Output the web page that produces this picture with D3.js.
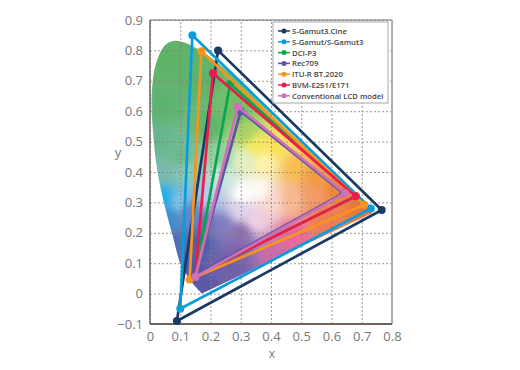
<!DOCTYPE html>
<html>
<head>
<meta charset="utf-8">
<script src="https://cdnjs.cloudflare.com/ajax/libs/d3/7.8.5/d3.min.js"></script>
<style>
body { margin: 0; background: #fff; }
svg { display: block; font-family: "Open Sans", sans-serif; }
</style>
</head>
<body>
<div id="chart-area"></div>
<script>
var names = ["S-Gamut3.Cine", "S-Gamut/S-Gamut3", "DCI-P3", "Rec709", "ITU-R BT.2020", "BVM-E251/E171", "Conventional LCD model"];
var colors = ["#1b3a61", "#0a9ddc", "#0aa550", "#5b55a5", "#f7941d", "#ed1c4c", "#cf72b4"];
// red, green, blue corners
var gamutX = [[0.766, 0.225, 0.089], [0.73, 0.14, 0.10], [0.68, 0.265, 0.15], [0.64, 0.30, 0.15], [0.708, 0.17, 0.131], [0.68, 0.208, 0.15], [0.645, 0.29, 0.15]];
var gamutY = [[0.275, 0.80, -0.09], [0.28, 0.85, -0.05], [0.32, 0.69, 0.06], [0.33, 0.60, 0.06], [0.292, 0.797, 0.046], [0.32, 0.725, 0.06], [0.33, 0.615, 0.055]];
// order in which the triangles stack
var drawOrder = [0, 1, 2, 4, 5, 3, 6];

var locusX = [0.172, 0.144, 0.124, 0.10, 0.075, 0.052, 0.024, 0.01, 0.005, 0.008, 0.018, 0.04, 0.06, 0.083, 0.114, 0.155, 0.193, 0.23, 0.302, 0.373, 0.444, 0.513, 0.575, 0.627, 0.735];
var locusY = [0.0, 0.03, 0.058, 0.10, 0.19, 0.275, 0.405, 0.53, 0.62, 0.69, 0.75, 0.805, 0.825, 0.832, 0.826, 0.806, 0.782, 0.754, 0.692, 0.625, 0.555, 0.487, 0.425, 0.373, 0.265];

// colour samples inside the horseshoe
var patchX = [0.08, 0.04, 0.16, 0.02, 0.2, 0.1, 0.03, 0.12, 0.04, 0.1, 0.06, 0.09, 0.13, 0.18, 0.25, 0.17, 0.13, 0.2, 0.3, 0.23, 0.24, 0.29, 0.32, 0.31, 0.31, 0.36, 0.38, 0.35, 0.42, 0.48, 0.55, 0.62, 0.70, 0.57, 0.47, 0.41, 0.35, 0.4, 0.47, 0.54, 0.3, 0.24, 0.19, 0.27, 0.29];
var patchY = [0.78, 0.62, 0.7, 0.5, 0.55, 0.45, 0.4, 0.4, 0.31, 0.3, 0.25, 0.16, 0.08, 0.03, 0.07, 0.17, 0.27, 0.32, 0.2, 0.45, 0.38, 0.6, 0.53, 0.44, 0.33, 0.34, 0.43, 0.49, 0.48, 0.41, 0.38, 0.34, 0.28, 0.25, 0.19, 0.13, 0.24, 0.3, 0.31, 0.32, 0.27, 0.22, 0.22, 0.1, 0.14];
var patchColor = ["#5db466", "#5cb36e", "#5bb369", "#66b48f", "#5db56b", "#6cb98c", "#7bb8b0", "#83cbb5", "#1aaee8", "#7cc3e8", "#3f8ccb", "#4a6fb6", "#4759a8", "#5b57a6", "#6f5ea8", "#4b58a8", "#5e83c8", "#b8cbed", "#8a6db0", "#8fcf9e", "#c6e8dc", "#6fbe62", "#a8d264", "#e2f0c2", "#ffffff", "#fffaf2", "#fff1ac", "#f6ea58", "#fde05c", "#f8bb52", "#f29a42", "#ee8538", "#ee7438", "#ef7a52", "#e8659a", "#c86aa8", "#f0cfe4", "#fbd6d0", "#f8b890", "#f39a68", "#dcd4ec", "#7f7cc0", "#6a6eb8", "#6c5ca8", "#7e63ac"];

var xTicks = [0, 0.1, 0.2, 0.3, 0.4, 0.5, 0.6, 0.7, 0.8];
var yTicks = [-0.1, 0, 0.1, 0.2, 0.3, 0.4, 0.5, 0.6, 0.7, 0.8, 0.9];

var margin = { left: 150, right: 128, top: 20, bottom: 46 };
var width = 520 - margin.left - margin.right;
var height = 370 - margin.top - margin.bottom;

var svg = d3.select("#chart-area").append("svg")
    .attr("width", 520)
    .attr("height", 370);
var g = svg.append("g")
    .attr("transform", "translate(" + margin.left + ", " + margin.top + ")");

var x = d3.scaleLinear().domain([0, 0.8]).range([0, width]);
var y = d3.scaleLinear().domain([-0.1, 0.9]).range([height, 0]);

var defs = svg.append("defs");
defs.append("filter").attr("id", "soft")
  .append("feGaussianBlur").attr("stdDeviation", 2);
defs.append("clipPath").attr("id", "horseshoe")
  .append("path")
    .attr("d", d3.line().curve(d3.curveCatmullRom).x((d) => x(d[0])).y((d) => y(d[1]))(d3.zip(locusX, locusY)) + "Z");

// blend the samples by inverse distance
function shade(px, py) {
    var r = 0, gr = 0, b = 0, sum = 0;
    patchX.forEach((v, i) => {
        var dx = x(v) - px, dy = y(patchY[i]) - py;
        var w = 1 / Math.pow(dx * dx + dy * dy + 9, 1.8);
        var c = d3.rgb(patchColor[i]);
        r += c.r * w; gr += c.g * w; b += c.b * w; sum += w;
    });
    return d3.rgb(r / sum, gr / sum, b / sum).formatHex();
}

// Horseshoe
var step = 2;
var cells = [];
d3.range(0, width, step).forEach((px) => {
    d3.range(y(0.88), y(-0.04), step).forEach((py) => {
        cells.push([px, py]);
    });
});
var shoe = g.append("g").attr("clip-path", "url(#horseshoe)")
  .append("g").attr("filter", "url(#soft)");
shoe.selectAll("rect").data(cells).enter().append("rect")
    .attr("x", (d) => d[0] - 1)
    .attr("y", (d) => d[1] - 1)
    .attr("width", step + 0.5)
    .attr("height", step + 0.5)
    .attr("fill", (d) => shade(d[0], d[1]));

// Grid
g.append("g")
    .attr("class", "x-axis")
    .attr("transform", "translate(0, " + height + ")")
    .call(d3.axisBottom(x).tickValues(xTicks).tickSize(-height).tickPadding(8)
        .tickFormat((d) => d === 0 ? "0" : d3.format(".1f")(d)));
g.append("g")
    .attr("class", "y-axis")
    .call(d3.axisLeft(y).tickValues(yTicks).tickSize(-width).tickPadding(7)
        .tickFormat((d) => d === 0 ? "0" : d3.format(".1f")(d)));
g.selectAll(".domain").remove();
g.selectAll(".tick line")
    .attr("stroke", "#8c8078")
    .attr("stroke-opacity", 0.8)
    .attr("stroke-width", 1)
    .attr("stroke-dasharray", "2,2");
g.selectAll(".tick text")
    .attr("font-size", "13px")
    .attr("font-family", "'Open Sans', sans-serif")
    .attr("fill", "#777");

// Frame
g.append("line").attr("x1", 0).attr("x2", width).attr("y1", 0).attr("y2", 0)
    .attr("stroke", "#7a6f68").attr("stroke-width", 1);
g.append("line").attr("x1", width).attr("x2", width).attr("y1", 0).attr("y2", height)
    .attr("stroke", "#b4aeaa").attr("stroke-width", 2);
g.append("line").attr("x1", 0).attr("x2", 0).attr("y1", 0).attr("y2", height)
    .attr("stroke", "#6f645d").attr("stroke-width", 1.5);
g.append("line").attr("x1", 0).attr("x2", width).attr("y1", height).attr("y2", height)
    .attr("stroke", "#6f645d").attr("stroke-width", 2);

// Gamuts
var gamuts = g.selectAll(".gamut").data(drawOrder).enter().append("g").attr("class", "gamut");
gamuts.append("path")
    .attr("d", (k) => d3.line().x((d) => x(d)).y((d, i) => y(gamutY[k][i]))(gamutX[k]) + "Z")
    .attr("fill", "none")
    .attr("stroke", (k) => colors[k])
    .attr("stroke-width", 2.7)
    .attr("stroke-linejoin", "round");
gamuts.selectAll("circle").data((k) => gamutX[k].map((v, i) => [v, gamutY[k][i], k])).enter().append("circle")
    .attr("cx", (d) => x(d[0]))
    .attr("cy", (d) => y(d[1]))
    .attr("r", 4)
    .attr("fill", (d) => colors[d[2]]);

// Axis labels
g.append("text")
    .attr("x", width / 2 + 1)
    .attr("y", height + 34)
    .attr("font-size", "12px")
    .attr("fill", "#777")
    .attr("text-anchor", "middle")
    .text("x");
g.append("text")
    .attr("x", -32)
    .attr("y", height / 2 - 15)
    .attr("font-size", "13px")
    .attr("fill", "#777")
    .attr("text-anchor", "middle")
    .text("y");

// Legend
var legend = svg.append("g").attr("transform", "translate(273, 22)");
legend.append("rect")
    .attr("width", 115)
    .attr("height", 81)
    .attr("fill", "#fff")
    .attr("stroke", "#a8a8a8")
    .attr("stroke-width", 1);
var rows = legend.selectAll(".row").data(names).enter().append("g")
    .attr("class", "row")
    .attr("transform", (d, i) => "translate(0, " + (9 + i * 10.8) + ")");
rows.append("line")
    .attr("x1", 5).attr("x2", 17).attr("y1", 0).attr("y2", 0)
    .attr("stroke", (d, i) => colors[i])
    .attr("stroke-width", 1.5);
rows.append("circle")
    .attr("cx", 11).attr("cy", 0).attr("r", 2.5)
    .attr("fill", (d, i) => colors[i]);
rows.append("text")
    .attr("x", 19)
    .attr("y", 3)
    .attr("font-size", "7.7px")
    .attr("font-weight", 600)
    .attr("fill", "#444")
    .text((d) => d);
</script>
</body>
</html>
